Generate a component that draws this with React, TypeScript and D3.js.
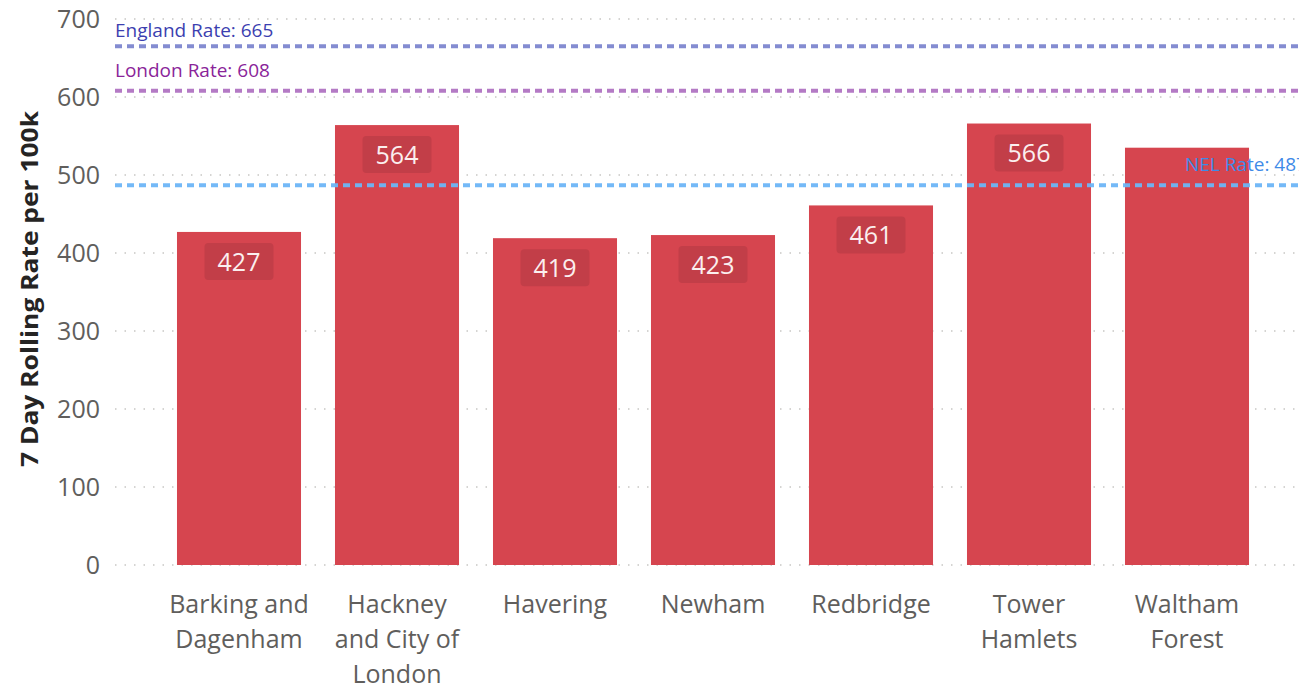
import React from "react";
import * as d3 from "d3";

const boroughs: string[][] = [
  ["Barking and", "Dagenham"],
  ["Hackney", "and City of", "London"],
  ["Havering"],
  ["Newham"],
  ["Redbridge"],
  ["Tower", "Hamlets"],
  ["Waltham", "Forest"],
];
const rates: number[] = [427, 564, 419, 423, 461, 566, 535];
const showLabel: boolean[] = [true, true, true, true, true, true, false];
const yTicks: number[] = [0, 100, 200, 300, 400, 500, 600, 700];
const refNames: string[] = ["England Rate", "London Rate", "NEL Rate"];
const refValues: number[] = [665, 608, 487];

const W = 1299;
const H = 684;
const FONT = "'Segoe UI', 'Open Sans', 'Noto Sans', sans-serif";

export default function App() {
  const y = d3.scaleLinear().domain([0, 700]).range([565, 19]);
  const keys = boroughs.map((b) => b.join(" "));
  const x = d3
    .scaleBand<string>()
    .domain(keys)
    .range([160, 1266])
    .paddingInner(0.215)
    .paddingOuter(0.1075);
  const bw = x.bandwidth();

  const refStyles = [
    { line: "#7E86CF", text: "#3C3FB0" },
    { line: "#B173C2", text: "#8A2499" },
    { line: "#6DB6F7", text: "#3F8BE8" },
  ];
  const refOffsets = [9, 14, 14];
  const refX = [115, 115, 1185];

  return (
    <svg
      width={W}
      height={H}
      style={{ position: "absolute", left: 0, top: 0, background: "#fff" }}
      fontFamily={FONT}
    >
      {/* gridlines */}
      {yTicks.map((t) => (
        <line
          key={"g" + t}
          x1={115}
          x2={W}
          y1={y(t)}
          y2={y(t)}
          stroke="#C8C6C4"
          strokeWidth={1.5}
          strokeDasharray="1.5 8"
        />
      ))}
      {/* y tick labels */}
      {yTicks.map((t) => (
        <text
          key={"t" + t}
          x={100}
          y={y(t)}
          dy="0.35em"
          textAnchor="end"
          fontSize={25}
          fill="#605E5C"
        >
          {t}
        </text>
      ))}
      {/* y axis title */}
      <text
        transform={`translate(38, 289) rotate(-90)`}
        textAnchor="middle"
        fontSize={23}
        fontWeight="bold"
        fill="#252423"
        textLength={356}
        lengthAdjust="spacingAndGlyphs"
      >
        7 Day Rolling Rate per 100k
      </text>
      {/* bars */}
      {rates.map((v, i) => (
        <rect
          key={"b" + i}
          x={x(keys[i])}
          y={y(v)}
          width={bw}
          height={y(0) - y(v)}
          fill="#D6454F"
        />
      ))}
      {/* data labels */}
      {rates.map((v, i) =>
        showLabel[i] ? (
          <g key={"l" + i}>
            <rect
              x={(x(keys[i]) as number) + bw / 2 - 34.5}
              y={y(v) + 11}
              width={69}
              height={37}
              rx={4}
              fill="#C23E48"
            />
            <text
              x={(x(keys[i]) as number) + bw / 2}
              y={y(v) + 30}
              dy="0.35em"
              textAnchor="middle"
              fontSize={25}
              fill="#FBEFEF"
            >
              {v}
            </text>
          </g>
        ) : null
      )}
      {/* reference lines */}
      {refValues.map((v, i) => (
        <line
          key={"r" + i}
          x1={115}
          x2={W}
          y1={y(v)}
          y2={y(v)}
          stroke={refStyles[i].line}
          strokeWidth={4}
          strokeDasharray="7 5"
          opacity={0.95}
        />
      ))}
      {/* reference labels */}
      {refValues.map((v, i) => (
        <text
          key={"rl" + i}
          x={refX[i]}
          y={y(v) - refOffsets[i]}
          fontSize={19}
          fill={refStyles[i].text}
        >
          {`${refNames[i]}: ${v}`}
        </text>
      ))}
      {/* x labels */}
      {boroughs.map((lines, i) => (
        <text
          key={"x" + i}
          x={(x(keys[i]) as number) + bw / 2}
          y={604}
          textAnchor="middle"
          fontSize={25}
          fill="#605E5C"
        >
          {lines.map((ln, j) => (
            <tspan key={j} x={(x(keys[i]) as number) + bw / 2} dy={j === 0 ? "0.35em" : 35}>
              {ln}
            </tspan>
          ))}
        </text>
      ))}
    </svg>
  );
}
